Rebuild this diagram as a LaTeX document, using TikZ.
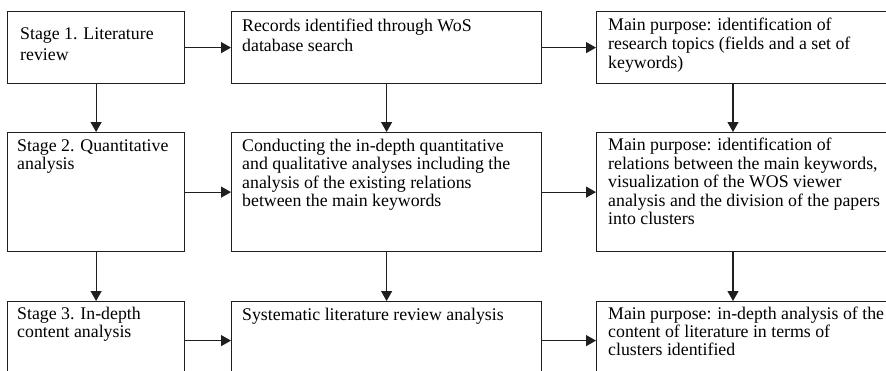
\documentclass[tikz,border=0pt]{standalone}
\usepackage{fontspec}
\setmainfont{Liberation Serif}
\usetikzlibrary{arrows.meta}

\begin{document}
\begin{tikzpicture}[x=1pt,y=-1pt,
  box/.style={draw=black!88, line width=1.2pt, rectangle, inner sep=0pt,
    anchor=north west, minimum height=#1},
  colA/.style={minimum width=177pt},
  colB/.style={minimum width=310pt},
  colC/.style={minimum width=320pt},
  txt/.style={inner sep=0pt, anchor=base west, text=black},
  lead/.style={font=\fontsize{17.8}{#1}\selectfont},
  arr/.style={draw=black!88, line width=1.2pt,
    -{Triangle[length=10pt,width=11pt]}}
]
% canvas
\path[use as bounding box] (0,0) rectangle (886,370);
\clip (0,0) rectangle (886,370);
\fill[white] (0,0) rectangle (886,370);

% boxes: three stages (column A), activities (column B), purposes (column C)
\node[box=72pt,  colA] (a1) at (7,11)   {};
\node[box=72pt,  colB] (b1) at (231,11) {};
\node[box=72pt,  colC] (c1) at (596,11) {};
\node[box=119pt, colA] (a2) at (7,132)   {};
\node[box=119pt, colB] (b2) at (231,132) {};
\node[box=119pt, colC] (c2) at (596,132) {};
\node[box=78pt,  colA] (a3) at (7,301)   {};
\node[box=78pt,  colB] (b3) at (231,301) {};
\node[box=78pt,  colC] (c3) at (596,301) {};

% texts
\node[txt, lead=21.7pt] (ta1) at ([xshift=13pt,yshift=-28pt]a1.north west)
  {\parbox[t]{170pt}{Stage 1. Literature\\review}};
\node[txt, lead=20.5pt] (tb1) at ([xshift=11pt,yshift=-20pt]b1.north west)
  {\parbox[t]{300pt}{Records identified through WoS\\database search}};
\node[txt, lead=19pt] (tc1) at ([xshift=12pt,yshift=-19.5pt]c1.north west)
  {\parbox[t]{300pt}{Main purpose: identification of\\research topics (fields and a set of\\keywords)}};

\node[txt, lead=18.5pt] (ta2) at ([xshift=10pt,yshift=-19pt]a2.north west)
  {\parbox[t]{170pt}{Stage 2. Quantitative\\analysis}};
\node[txt, lead=18.5pt] (tb2) at ([xshift=11pt,yshift=-19pt]b2.north west)
  {\parbox[t]{300pt}{Conducting the in-depth quantitative\\and qualitative analyses including the\\analysis of the existing relations\\between the main keywords}};
\node[txt, lead=18.5pt] (tc2) at ([xshift=12pt,yshift=-18.5pt]c2.north west)
  {\parbox[t]{300pt}{Main purpose: identification of\\relations between the main keywords,\\visualization of the WOS viewer\\analysis and the division of the papers\\into clusters}};

\node[txt, lead=18pt] (ta3) at ([xshift=10pt,yshift=-18.5pt]a3.north west)
  {\parbox[t]{170pt}{Stage 3. In-depth\\content analysis}};
\node[txt, lead=18pt] (tb3) at ([xshift=11pt,yshift=-19pt]b3.north west)
  {\parbox[t]{300pt}{Systematic literature review analysis}};
\node[txt, lead=18pt] (tc3) at ([xshift=12pt,yshift=-18.5pt]c3.north west)
  {\parbox[t]{300pt}{Main purpose: in-depth analysis of the\\content of literature in terms of\\clusters identified}};

% horizontal connectors
\draw[arr] (a1.east) -- (b1.west);
\draw[arr] (b1.east) -- (c1.west);
\draw[arr] (a2.east) -- (b2.west);
\draw[arr] (b2.east) -- (c2.west);
\draw[arr] (a3.east) -- (b3.west);
\draw[arr] (b3.east) -- (c3.west);

% vertical connectors
\draw[arr] (a1.south) -- (a2.north);
\draw[arr] (a2.south) -- (a3.north);
\draw[arr] (b1.south) -- (b2.north);
\draw[arr] (b2.south) -- (b3.north);
\draw[arr] ([xshift=137pt]c1.south west) -- ([xshift=137pt]c2.north west);
\draw[arr] ([xshift=137pt]c2.south west) -- ([xshift=137pt]c3.north west);
\end{tikzpicture}
\end{document}
